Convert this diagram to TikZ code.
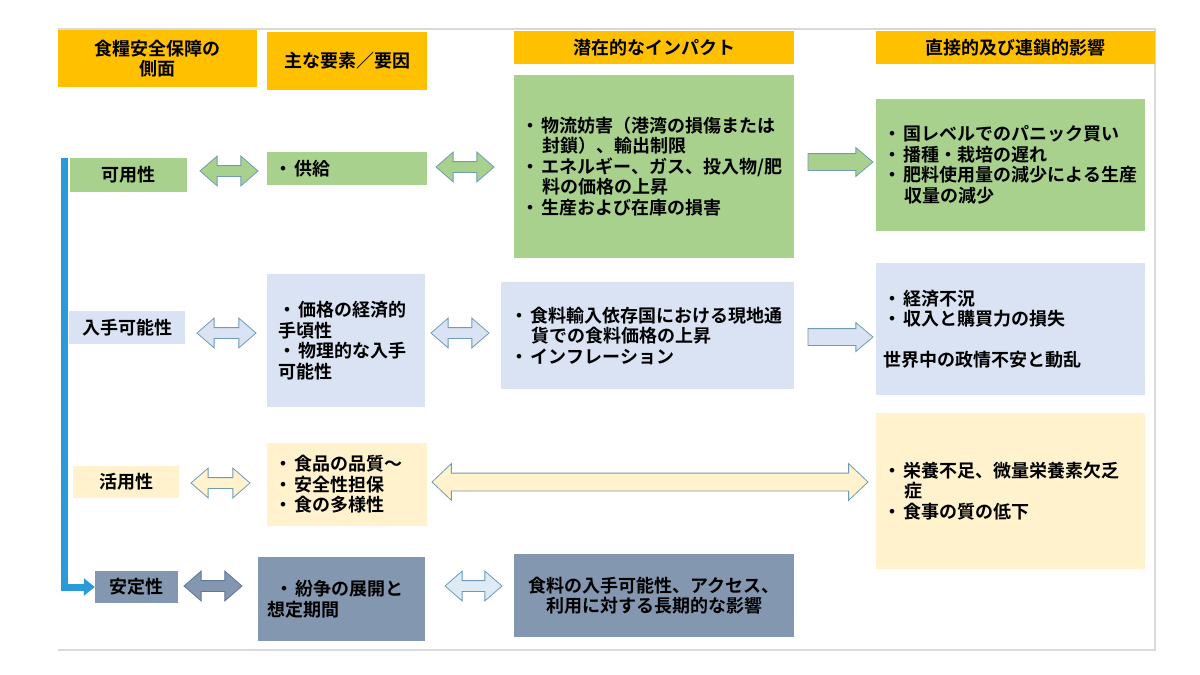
\documentclass[tikz,border=0pt]{standalone}
\usepackage{fontspec}
\setmainfont{Noto Sans CJK JP}[BoldFont={Noto Sans CJK JP Bold}]
\usetikzlibrary{shapes.arrows,arrows.meta}

\definecolor{hdrorange}{HTML}{FFC000}
\definecolor{avgreen}{HTML}{A9D18E}
\definecolor{acblue}{HTML}{DAE3F3}
\definecolor{utyellow}{HTML}{FFF2CC}
\definecolor{stslate}{HTML}{8497B0}
\definecolor{stdark}{HTML}{5F7896}
\definecolor{palblue}{HTML}{DEEBF7}
\definecolor{linkblue}{HTML}{2A9AD8}
\definecolor{arrline}{HTML}{6F9BB8}
\definecolor{framegray}{HTML}{D9D9D9}

\newcommand\bul{\makebox[21pt][l]{・}}
\newcommand\bulind{\hspace*{21pt}}

\tikzset{
	txt/.style={font=\fontsize{18pt}{20.5pt}\selectfont\bfseries},
	hdr/.style={txt, fill=hdrorange, inner sep=0pt, align=center},
	cell/.style={txt, inner xsep=7pt, inner ysep=0pt, align=left},
	lbl/.style={txt, inner sep=0pt, align=center},
	dbl/.style={double arrow, draw=arrline, line width=0.8pt, inner xsep=0pt, inner ysep=5pt, double arrow head extend=9.5pt, double arrow tip angle=82},
	sgl/.style={single arrow, draw=arrline, line width=0.8pt, inner xsep=0pt, inner ysep=8pt, single arrow head extend=6pt, single arrow tip angle=80}
}

\begin{document}
\begin{tikzpicture}[x=1pt,y=-1pt]
	\useasboundingbox (0,0) rectangle (1200,675);
	\draw[framegray, line width=2pt] (58,29) -- (1155,29) -- (1155,650) -- (58,650);
	% headers
	\node[hdr, minimum width=199pt, minimum height=57pt] at (157.5,58.5) (hside) {食糧安全保障の\\側面};
	\node[hdr, minimum width=160pt, minimum height=58pt] at (347,61) (hfact) {主な要素／要因};
	\node[hdr, minimum width=280pt, minimum height=33pt] at (654,47.5) (himp) {潜在的なインパクト};
	\node[hdr, minimum width=279pt, minimum height=33pt] at (1015.5,47.5) (heff) {直接的及び連鎖的影響};
	% availability
	\node[lbl, fill=avgreen, minimum width=117pt, minimum height=34pt] at (128.5,175) (avail) {可用性};
	\node[cell, fill=avgreen, text width=146pt, minimum height=33pt] at (347,168.5) (avfact) {\bul 供給};
	\node[cell, fill=avgreen, text width=266pt, minimum height=183pt] at (654,166.5) (avimp) {\bul 物流妨害（港湾の損傷または\\\bulind 封鎖）、輸出制限\\\bul エネルギー、ガス、投入物/肥\\\bulind 料の価格の上昇\\\bul 生産および在庫の損害};
	\node[cell, fill=avgreen, text width=255pt, minimum height=132pt] at (1010.5,165) (aveff) {\bul 国レベルでのパニック買い\\\bul 播種・栽培の遅れ\\\bul 肥料使用量の減少による生産\\\bulind 収量の減少};
	\node[dbl, fill=avgreen, minimum height=58pt] at (229,171) (av1) {};
	\node[dbl, fill=avgreen, minimum height=58pt] at (465,167) (av2) {};
	\node[sgl, fill=avgreen, minimum height=65pt] at (835.5,162) (av3) {};
	% access
	\node[lbl, fill=acblue, minimum width=116pt, minimum height=33pt] at (127,327.5) (access) {入手可能性};
	\node[cell, fill=acblue, inner xsep=11pt, text width=136pt, minimum height=133pt] at (346,340.5) (acfact) {\bul 価格の経済的\\手頃性\\\bul 物理的な入手\\可能性};
	\node[cell, fill=acblue, inner xsep=9pt, text width=275pt, minimum height=107pt] at (647.5,335.5) (acimp) {\bul 食料輸入依存国における現地通\\\bulind 貨での食料価格の上昇\\\bul インフレーション};
	\node[cell, fill=acblue, text width=255pt, minimum height=132pt] at (1010.5,329) (aceff) {\bul 経済不況\\\bul 収入と購買力の損失\\[20.5pt]世界中の政情不安と動乱};
	\node[dbl, fill=acblue, minimum height=59pt] at (226.5,333) (ac1) {};
	\node[dbl, fill=acblue, minimum height=58pt] at (460,333) (ac2) {};
	\node[sgl, fill=acblue, minimum height=65pt] at (835.5,337) (ac3) {};
	% utilization
	\node[lbl, fill=utyellow, minimum width=106pt, minimum height=32pt] at (126,482) (util) {活用性};
	\node[cell, fill=utyellow, text width=146pt, minimum height=83pt] at (347,484.5) (utfact) {\bul 食品の品質～\\\bul 安全性担保\\\bul 食の多様性};
	\node[cell, fill=utyellow, text width=255pt, minimum height=156pt] at (1010.5,491) (uteff) {\bul 栄養不足、微量栄養素欠乏\\\bulind 症\\\bul 食事の質の低下};
	\node[dbl, fill=utyellow, minimum height=59pt] at (220.5,483) (ut1) {};
	\node[dbl, fill=utyellow, minimum height=436pt, inner ysep=8.5pt, double arrow tip angle=87] at (650,482) (ut2) {};
	% stability
	\node[lbl, fill=stslate, minimum width=83pt, minimum height=32pt] at (136.5,587) (stab) {安定性};
	\node[cell, fill=stslate, inner xsep=9pt, text width=149pt, minimum height=84pt] at (341.5,599) (stfact) {\hspace*{8pt}\bul 紛争の展開と\\想定期間};
	\node[cell, fill=stslate, align=center, text width=266pt, minimum height=83pt] at (654,595.5) (stimp) {食料の入手可能性、アクセス、\\利用に対する長期的な影響};
	\node[dbl, fill=stslate, draw=stdark, minimum height=58pt] at (213,586) (st1) {};
	\node[dbl, fill=palblue, minimum height=57pt] at (473.5,586) (st2) {};
	% time line
	\coordinate (tltop) at (64,158);
	\draw[linkblue, line width=7pt, -{Triangle[length=11pt,width=17pt]}] (tltop) |- (stab.west);
\end{tikzpicture}
\end{document}
